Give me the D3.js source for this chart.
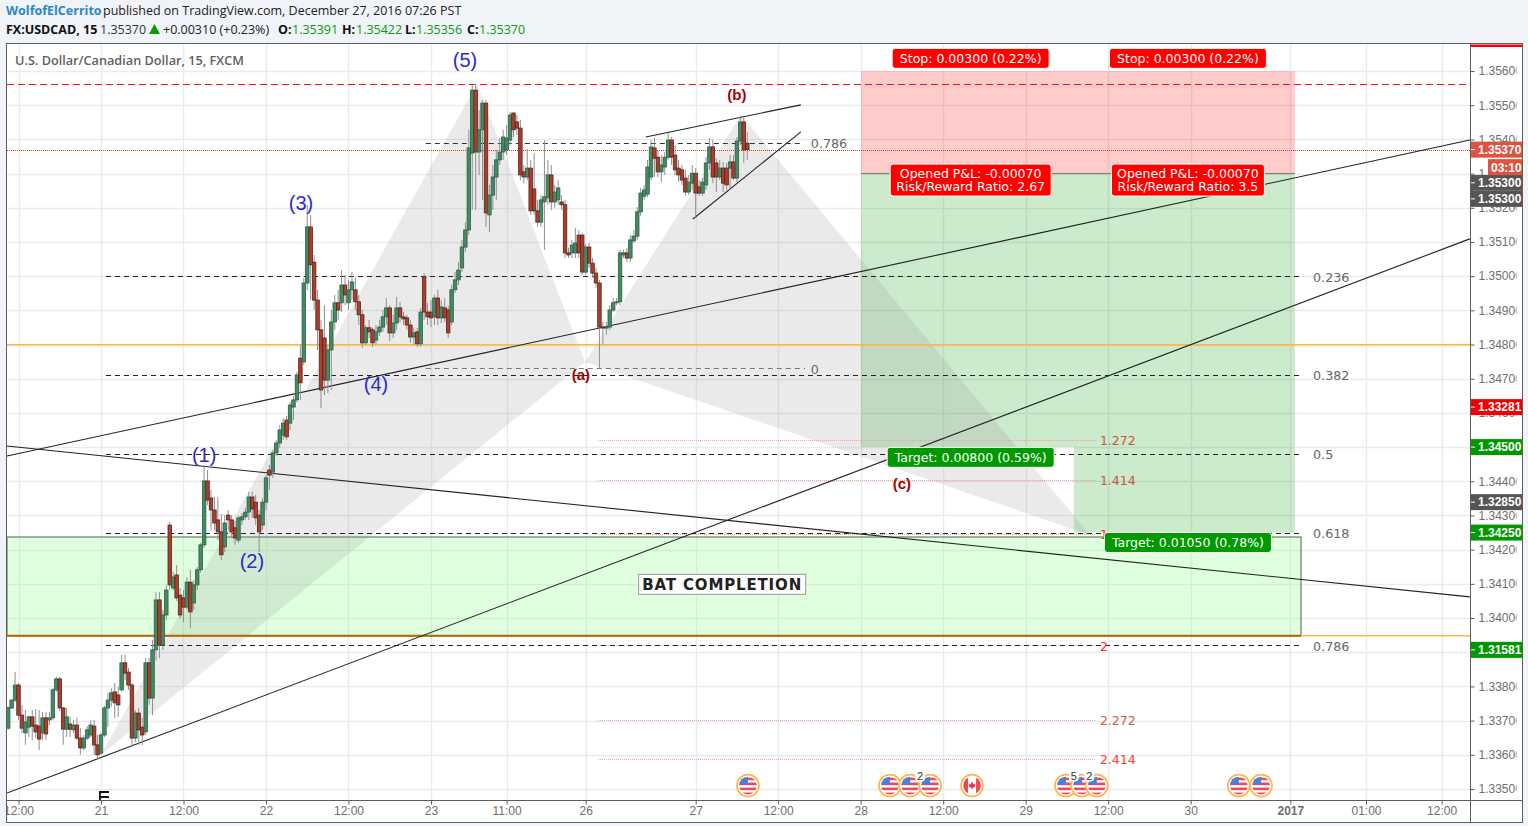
<!DOCTYPE html>
<html><head><meta charset="utf-8">
<script src="https://cdnjs.cloudflare.com/ajax/libs/d3/7.8.5/d3.min.js"></script>
<style>
html,body{margin:0;padding:0;background:#f0f3f8;overflow:hidden}
svg{display:block}
</style></head><body><svg id="c" width="1528" height="826"></svg>
<script>
// ---------- data: candles, one per 30-min slot of the picture, first bar index -3 ----------
const firstBar = -3;
const opens = [1.33678,1.33737,1.33760,1.33804,1.33716,1.33664,1.33681,1.33711,1.33687,1.33684,
1.33664,1.33708,1.33702,1.33708,1.33790,1.33822,1.33737,1.33675,1.33690,1.33673,
1.33687,1.33649,1.33620,1.33649,1.33658,1.33684,1.33629,1.33605,1.33658,1.33737,
1.33760,1.33784,1.33775,1.33790,1.33869,1.33842,1.33804,1.33649,1.33722,1.33681,
1.33667,1.33869,1.33766,1.33907,1.34053,1.33921,1.34009,1.34272,1.34088,1.34126,
1.34067,1.34059,1.34032,1.34105,1.34044,1.34097,1.34141,1.34214,1.34401,1.34351,
1.34316,1.34287,1.34252,1.34208,1.34301,1.34287,1.34264,1.34228,1.34287,1.34296,
1.34310,1.34354,1.34339,1.34301,1.34272,1.34339,1.34433,1.34427,1.34483,1.34512,
1.34535,1.34579,1.34570,1.34617,1.34638,1.34760,1.34749,1.34980,1.35144,1.35041,
1.34930,1.34843,1.34819,1.34696,1.34784,1.34866,1.34922,1.34922,1.34974,1.34922,
1.34960,1.34960,1.34925,1.34887,1.34805,1.34849,1.34843,1.34813,1.34837,1.34851,
1.34881,1.34907,1.34834,1.34863,1.34907,1.34881,1.34878,1.34857,1.34822,1.34837,
1.34802,1.34998,1.34895,1.34895,1.34881,1.34936,1.34878,1.34907,1.34901,1.34866,
1.34960,1.34989,1.35024,1.35085,1.35135,1.35360,1.35544,1.35363,1.35428,1.35506,
1.35179,1.35237,1.35290,1.35340,1.35363,1.35369,1.35398,1.35477,1.35451,1.35433,
1.35305,1.35290,1.35316,1.35255,1.35191,1.35158,1.35217,1.35229,1.35296,1.35217,
1.35223,1.35217,1.35209,1.35068,1.35068,1.35068,1.35120,1.35120,1.35012,1.35085,
1.35038,1.35009,1.34980,1.34851,1.34849,1.34851,1.34901,1.34922,1.34925,1.35062,
1.35068,1.35053,1.35103,1.35117,1.35188,1.35234,1.35240,1.35290,1.35375,1.35348,
1.35305,1.35319,1.35348,1.35398,1.35354,1.35316,1.35311,1.35287,1.35246,1.35272,
1.35301,1.35261,1.35243,1.35267,1.35331,1.35378,1.35331,1.35290,1.35316,1.35316,
1.35316,1.35334,1.35287,1.35395,1.35451,1.35389];
const closes = [1.33738,1.33760,1.33804,1.33716,1.33678,1.33696,1.33711,1.33684,1.33667,1.33646,
1.33708,1.33661,1.33708,1.33790,1.33822,1.33737,1.33675,1.33711,1.33675,1.33687,
1.33649,1.33620,1.33649,1.33673,1.33687,1.33629,1.33600,1.33658,1.33737,1.33760,
1.33781,1.33752,1.33746,1.33869,1.33839,1.33804,1.33649,1.33722,1.33673,1.33658,
1.33869,1.33766,1.33907,1.34053,1.33921,1.34009,1.34082,1.34097,1.34120,1.34059,
1.34009,1.34032,1.34105,1.34018,1.34097,1.34141,1.34214,1.34401,1.34345,1.34316,
1.34278,1.34252,1.34185,1.34278,1.34287,1.34252,1.34234,1.34293,1.34296,1.34310,
1.34354,1.34319,1.34293,1.34252,1.34339,1.34410,1.34418,1.34483,1.34512,1.34550,
1.34570,1.34530,1.34623,1.34638,1.34711,1.34688,1.34980,1.35144,1.35033,1.34930,
1.34843,1.34667,1.34696,1.34784,1.34866,1.34922,1.34901,1.34974,1.34945,1.34960,
1.34983,1.34925,1.34887,1.34805,1.34849,1.34837,1.34805,1.34837,1.34851,1.34881,
1.34907,1.34834,1.34863,1.34907,1.34881,1.34875,1.34857,1.34822,1.34834,1.34802,
1.34895,1.34895,1.34881,1.34878,1.34936,1.34878,1.34910,1.34878,1.34834,1.34960,
1.34989,1.35018,1.35085,1.35135,1.35375,1.35544,1.35363,1.35428,1.35506,1.35185,
1.35237,1.35290,1.35340,1.35363,1.35407,1.35404,1.35471,1.35428,1.35433,1.35296,
1.35290,1.35316,1.35191,1.35191,1.35158,1.35223,1.35232,1.35296,1.35217,1.35246,
1.35258,1.35209,1.35068,1.35062,1.35091,1.35097,1.35068,1.35012,1.35085,1.35038,
1.35009,1.34980,1.34851,1.34849,1.34851,1.34901,1.34922,1.34925,1.35068,1.35068,
1.35053,1.35106,1.35117,1.35188,1.35243,1.35252,1.35319,1.35378,1.35345,1.35305,
1.35325,1.35348,1.35398,1.35348,1.35311,1.35296,1.35281,1.35246,1.35275,1.35301,
1.35243,1.35243,1.35275,1.35331,1.35378,1.35290,1.35290,1.35316,1.35272,1.35267,
1.35334,1.35287,1.35395,1.35451,1.35369,1.35370];
const highs = [1.33741,1.33763,1.33842,1.33810,1.33746,1.33731,1.33714,1.33731,1.33734,1.33731,
1.33725,1.33725,1.33725,1.33795,1.33828,1.33828,1.33740,1.33737,1.33711,1.33702,
1.33708,1.33678,1.33658,1.33684,1.33702,1.33702,1.33658,1.33664,1.33743,1.33781,
1.33795,1.33810,1.33798,1.33892,1.33892,1.33854,1.33810,1.33731,1.33737,1.33708,
1.33883,1.33883,1.33936,1.34076,1.34076,1.34024,1.34096,1.34281,1.34135,1.34155,
1.34088,1.34082,1.34120,1.34141,1.34111,1.34149,1.34220,1.34447,1.34433,1.34375,
1.34354,1.34354,1.34304,1.34301,1.34316,1.34301,1.34284,1.34298,1.34307,1.34322,
1.34369,1.34369,1.34360,1.34316,1.34351,1.34419,1.34448,1.34492,1.34521,1.34565,
1.34585,1.34591,1.34632,1.34650,1.34720,1.34798,1.34995,1.35208,1.35179,1.35062,
1.34960,1.34872,1.34915,1.34798,1.34901,1.34945,1.34960,1.35018,1.35003,1.34989,
1.35012,1.34995,1.34945,1.34901,1.34857,1.34872,1.34849,1.34857,1.34872,1.34901,
1.34936,1.34915,1.34887,1.34939,1.34924,1.34895,1.34887,1.34872,1.34849,1.34849,
1.34907,1.35009,1.34922,1.34930,1.34945,1.34960,1.34930,1.34936,1.34913,1.34974,
1.35012,1.35041,1.35106,1.35158,1.35428,1.35559,1.35562,1.35486,1.35515,1.35515,
1.35267,1.35325,1.35369,1.35404,1.35428,1.35442,1.35480,1.35480,1.35471,1.35457,
1.35325,1.35372,1.35340,1.35360,1.35223,1.35237,1.35398,1.35340,1.35325,1.35267,
1.35281,1.35237,1.35223,1.35083,1.35106,1.35141,1.35135,1.35126,1.35094,1.35097,
1.35053,1.35024,1.34989,1.34866,1.34866,1.34915,1.34936,1.34936,1.35077,1.35077,
1.35083,1.35120,1.35135,1.35202,1.35258,1.35267,1.35340,1.35398,1.35404,1.35369,
1.35354,1.35363,1.35419,1.35407,1.35383,1.35340,1.35325,1.35311,1.35296,1.35325,
1.35316,1.35281,1.35287,1.35348,1.35404,1.35398,1.35345,1.35340,1.35334,1.35331,
1.35354,1.35354,1.35407,1.35469,1.35463,1.35421];
const lows = [1.33673,1.33734,1.33754,1.33702,1.33664,1.33629,1.33652,1.33643,1.33649,1.33614,
1.33643,1.33643,1.33687,1.33702,1.33784,1.33728,1.33629,1.33652,1.33652,1.33664,
1.33643,1.33600,1.33614,1.33643,1.33652,1.33600,1.33585,1.33600,1.33652,1.33681,
1.33740,1.33708,1.33711,1.33784,1.33819,1.33790,1.33623,1.33637,1.33629,1.33629,
1.33658,1.33746,1.33716,1.33877,1.33883,1.33907,1.33994,1.34082,1.34082,1.34050,
1.34000,1.33988,1.34024,1.33970,1.34024,1.34082,1.34132,1.34205,1.34331,1.34258,
1.34258,1.34228,1.34170,1.34193,1.34258,1.34237,1.34214,1.34220,1.34272,1.34287,
1.34287,1.34293,1.34272,1.34193,1.34258,1.34316,1.34375,1.34410,1.34474,1.34497,
1.34521,1.34521,1.34550,1.34579,1.34629,1.34638,1.34740,1.34960,1.34930,1.34901,
1.34784,1.34614,1.34652,1.34658,1.34667,1.34843,1.34872,1.34895,1.34915,1.34901,
1.34930,1.34901,1.34857,1.34790,1.34799,1.34819,1.34793,1.34799,1.34825,1.34837,
1.34857,1.34810,1.34819,1.34843,1.34866,1.34857,1.34843,1.34805,1.34799,1.34793,
1.34793,1.34872,1.34857,1.34851,1.34857,1.34857,1.34863,1.34866,1.34819,1.34857,
1.34951,1.34974,1.35012,1.35071,1.35120,1.35194,1.35194,1.35296,1.35223,1.35144,
1.35129,1.35194,1.35223,1.35325,1.35340,1.35354,1.35383,1.35407,1.35413,1.35281,
1.35272,1.35281,1.35179,1.35179,1.35144,1.35144,1.35077,1.35209,1.35194,1.35200,
1.35209,1.35194,1.35053,1.35053,1.35053,1.35053,1.35053,1.35003,1.35003,1.35024,
1.34995,1.34966,1.34731,1.34799,1.34828,1.34843,1.34895,1.34915,1.34915,1.35053,
1.35041,1.35041,1.35097,1.35106,1.35176,1.35223,1.35232,1.35281,1.35290,1.35290,
1.35275,1.35296,1.35340,1.35325,1.35296,1.35275,1.35267,1.35235,1.35237,1.35252,
1.35170,1.35235,1.35235,1.35252,1.35311,1.35272,1.35246,1.35281,1.35246,1.35252,
1.35252,1.35281,1.35275,1.35383,1.35331,1.35340];

const priceTicks = [1.335,1.336,1.337,1.338,1.339,1.34,1.341,1.342,1.343,1.344,1.345,1.346,1.347,1.348,1.349,1.35,1.351,1.352,1.353,1.354,1.355,1.356];
const timeTicks = [0,24,48,72,96,120,142,165,197,221,245,269,293,317,341,370,392,414];
const timeLabels = ["12:00","21","12:00","22","12:00","23","11:00","26","27","12:00","28","12:00","29","12:00","30","2017","01:00","12:00"];

const trendLines = [[-3.35,1.34474,422.2,1.35398],[-3.35,1.33488,422.2,1.35109],[-3.35,1.34503,422.2,1.34062],[182.5,1.35407,227.6,1.35501],[196.2,1.35167,227.6,1.35422]];
const batA = [[24,1.33600],[133.4,1.35562],[164.8,1.34749]];
const batB = [[164.8,1.34749],[210.2,1.35471],[311.7,1.34243]];

const mainFibLevels = [1.35000,1.34711,1.34480,1.34249,1.33921];
const mainFibNames = ["0.236","0.382","0.5","0.618","0.786"];
const upperFibLevels = [1.35390,1.34731];
const upperFibNames = ["0.786","0"];
const extFibLevels = [1.34521,1.34404,1.34246,1.33921,1.33702,1.33588];
const extFibNames = ["1.272","1.414","1","2","2.272","2.414"];
const extFibColors = ["#c9573f","#c9573f","#ff2a2a","#ff2a2a","#d0603f","#ff3b2a"];

const horizOrange = [1.34799,1.33948];
const stopDashed = 1.35562, lastPrice = 1.35370;
const batBox = [-3.35,373.1,1.34237,1.33948];
const stop = 1.356, entry = 1.353, targets = [1.345,1.3425];
const posX = [245.1,307,371.3];

const waveLabels = [["(5)",129.9,1.35632],["(3)",82.2,1.35214],["(1)",54,1.34477],["(2)",67.9,1.34167],["(4)",104,1.34685]];
const abcLabels = [["(b)",209,1.35530],["(a)",163.6,1.34711],["(c)",257,1.34392]];
// badge text, price level of its centre on the stacked axis, colour
const axisBadges = [["1.35370",1.35370,"#df5240"],["1.35300",1.35273,"#555"],["1.35300",1.35226,"#555"],["1.33281",1.34617,"#f00000"],["1.34500",1.34500,"#009a00"],["1.32850",1.34339,"#555"],["1.34250",1.34250,"#009a00"],["1.31581",1.33907,"#009a00"]];
const usEvents = [212.2,253.5,259.4,265.2,304.7,309.4,313.7,355,361.5];
const caEvents = [277.4];
const eventCounts = [["2",262.3],["5",307],["2",311.5]];

// ---------- scales ----------
const x = d3.scaleLinear().domain([0,414]).range([18.5,1441.6]);
const y = d3.scaleLinear().domain([1.335,1.356]).range([789,71]);
const L=7,R=1470,T=44,B=800,RR=1522,BB=822;
const svg = d3.select("#c");
const defs = svg.append("defs");
defs.append("clipPath").attr("id","plot").append("rect").attr("x",L).attr("y",T).attr("width",R-L).attr("height",B-T);
defs.append("clipPath").attr("id","ax").append("rect").attr("x",0).attr("y",T).attr("width",46).attr("height",B-T);
defs.append("clipPath").attr("id","bot").append("rect").attr("x",L).attr("y",0).attr("width",RR-L).attr("height",21);
defs.append("clipPath").attr("id","ev").append("circle").attr("r",8.8);

const SANS="'Open Sans',sans-serif", DJ="'DejaVu Sans',sans-serif", AR="'Liberation Sans',Arial,sans-serif";
const rnd=v=>Math.round(v)+.5;

// header
const h1=svg.append("g").attr("font-family",SANS).attr("font-size",12.5);
h1.append("text").attr("x",6).attr("y",15).attr("font-weight",700).attr("fill","#2b86c5").text("WolfofElCerrito");
h1.append("text").attr("x",103).attr("y",15).attr("fill","#222").text("published on TradingView.com, December 27, 2016 07:26 PST");
const seg=[[6,"FX:USDCAD, 15",700,"#111"],[100,"1.35370",400,"#333"],[163,"+0.00310 (+0.23%)",400,"#222"],[278,"O:",700,"#111"],[292,"1.35391",400,"#0b9a0b"],[342,"H:",700,"#111"],[356,"1.35422",400,"#0b9a0b"],[405,"L:",700,"#111"],[416,"1.35356",400,"#0b9a0b"],[467,"C:",700,"#111"],[479,"1.35370",400,"#0b9a0b"]];
h1.selectAll("text.s").data(seg).join("text").attr("class","s").attr("x",d=>d[0]).attr("y",34).attr("font-weight",d=>d[2]).attr("fill",d=>d[3]).text(d=>d[1]);
h1.append("path").attr("d","M149,34L160,34L154.5,24Z").attr("fill","#0a9a0a");

// frame
svg.append("rect").attr("x",6.5).attr("y",43.5).attr("width",RR-6).attr("height",BB-43).attr("fill","#fff").attr("stroke","#5d5d5d");

// grid
const plot=svg.append("g").attr("clip-path","url(#plot)");
plot.append("g").selectAll("line").data(priceTicks).join("line").attr("x1",L).attr("x2",R).attr("y1",d=>rnd(y(d))).attr("y2",d=>rnd(y(d))).attr("stroke","#e9ecee").attr("stroke-width",1.4);
plot.append("g").selectAll("line").data(timeTicks).join("line").attr("y1",T).attr("y2",B).attr("x1",d=>rnd(x(d))).attr("x2",d=>rnd(x(d))).attr("stroke","#e9ecee").attr("stroke-width",1.4);

// BAT completion box
plot.append("rect").attr("x",x(batBox[0])).attr("width",x(batBox[1])-x(batBox[0])).attr("y",y(batBox[2])).attr("height",y(batBox[3])-y(batBox[2])).attr("fill","rgba(128,255,128,.25)").attr("stroke","#5f7f5f").attr("stroke-width",1.2);

// position tools
plot.append("rect").attr("x",x(posX[0])).attr("width",x(posX[2])-x(posX[0])).attr("y",y(stop)).attr("height",y(entry)-y(stop)).attr("fill","rgba(255,0,0,.2)");
plot.append("rect").attr("x",x(posX[0])).attr("width",x(posX[1])-x(posX[0])).attr("y",y(entry)).attr("height",y(targets[0])-y(entry)).attr("fill","rgba(0,150,0,.2)");
plot.append("rect").attr("x",x(posX[1])).attr("width",x(posX[2])-x(posX[1])).attr("y",y(entry)).attr("height",y(targets[1])-y(entry)).attr("fill","rgba(0,150,0,.2)");
plot.append("line").attr("x1",x(posX[0])).attr("x2",x(posX[2])).attr("y1",y(entry)).attr("y2",y(entry)).attr("stroke","#777");

// harmonic pattern
[batA,batB].forEach(p=>plot.append("path").attr("d",d3.line().x(d=>x(d[0])).y(d=>y(d[1]))(p)+"Z").attr("fill","rgba(150,150,150,.2)"));

// horizontals
plot.selectAll("line.o").data(horizOrange).join("line").attr("class","o").attr("x1",L).attr("x2",R).attr("y1",d=>y(d)).attr("y2",d=>y(d)).attr("stroke","#ffb74d").attr("stroke-width",1.5);
plot.append("line").attr("x1",x(batBox[0])).attr("x2",x(batBox[1])).attr("y1",y(batBox[3])).attr("y2",y(batBox[3])).attr("stroke","#b06a00").attr("stroke-width",2);
plot.append("line").attr("x1",L).attr("x2",R).attr("y1",rnd(y(stopDashed))).attr("y2",rnd(y(stopDashed))).attr("stroke","#ff1010").attr("stroke-dasharray","7 4");
plot.append("line").attr("x1",L).attr("x2",R).attr("y1",rnd(y(lastPrice))).attr("y2",rnd(y(lastPrice))).attr("stroke","#f03020").attr("stroke-dasharray","1 1");

// fibs
const fib=(levels,x1,x2,color,dash)=>plot.append("g").selectAll("line").data(levels).join("line").attr("x1",x(x1)).attr("x2",x(x2)).attr("y1",d=>rnd(y(d))).attr("y2",d=>rnd(y(d))).attr("stroke",color).attr("stroke-dasharray",dash);
fib(extFibLevels,168.6,313.2,"#f0a0a0","1 1");
fib(mainFibLevels,25.45,373.7,"#222","5 4");
fib([upperFibLevels[0]],118.5,227.3,"#333","5 4");
fib([upperFibLevels[1]],118.5,228.8,"#777","5 4");
const lab=(d,xi,fs,col)=>plot.append("g").selectAll("text").data(d).join("text").attr("x",x(xi)).attr("y",e=>y(e[1])+5.5).attr("font-family",DJ).attr("font-size",fs).attr("fill",(e,i)=>col[i%col.length]).text(e=>e[0]);
lab(mainFibNames.map((n,i)=>[n,mainFibLevels[i]]),376.6,12.7,["#666"]);
lab(upperFibNames.map((n,i)=>[n,upperFibLevels[i]]),230.5,12.7,["#666"]);
lab(extFibNames.map((n,i)=>[n,extFibLevels[i]]),314.6,12.5,extFibColors);

// trend lines
plot.selectAll("line.t").data(trendLines).join("line").attr("class","t").attr("x1",d=>x(d[0])).attr("y1",d=>y(d[1])).attr("x2",d=>x(d[2])).attr("y2",d=>y(d[3])).attr("stroke","#222").attr("stroke-width",1.1);

// candles
const idx=d3.range(opens.length);
const cg=plot.append("g");
cg.selectAll("line").data(idx).join("line").attr("x1",i=>x(i+firstBar)).attr("x2",i=>x(i+firstBar)).attr("y1",i=>y(highs[i])).attr("y2",i=>y(lows[i])).attr("stroke","#8f8f8f").attr("stroke-width",1);
cg.selectAll("rect").data(idx).join("rect").attr("x",i=>x(i+firstBar)-1.75).attr("width",3.5).attr("y",i=>y(Math.max(opens[i],closes[i]))).attr("height",i=>Math.max(1,Math.abs(y(opens[i])-y(closes[i])))).attr("fill",i=>closes[i]>=opens[i]?"#438a62":"#b23b2b").attr("stroke",i=>closes[i]>=opens[i]?"#2f5f48":"#4a2a20").attr("stroke-width",.8);

// wave labels
plot.append("g").selectAll("text").data(waveLabels).join("text").attr("x",d=>x(d[1])).attr("y",d=>y(d[2])+7).attr("text-anchor","middle").attr("font-family",AR).attr("font-size",20).attr("fill","#2b2bc8").text(d=>d[0]);
plot.append("g").selectAll("text").data(abcLabels).join("text").attr("x",d=>x(d[1])).attr("y",d=>y(d[2])+5).attr("text-anchor","middle").attr("font-family",AR).attr("font-weight",700).attr("font-size",15).attr("fill","#a80000").text(d=>d[0]);

// BAT text
const bx=x(204.7), by=y(1.341);
plot.append("rect").attr("x",bx-83.5).attr("y",by-9.5).attr("width",167).attr("height",20).attr("fill","#fff").attr("stroke","#999");
plot.append("text").attr("x",bx).attr("y",by+6).attr("text-anchor","middle").attr("font-family",DJ).attr("font-weight",700).attr("font-size",15).attr("letter-spacing",.85).attr("fill","#222").text("BAT COMPLETION");

// pills
function pill(cx,cy,w,h,col,lines){
  plot.append("rect").attr("x",x(cx)-w/2).attr("y",y(cy)-h/2).attr("width",w).attr("height",h).attr("rx",3).attr("fill",col).attr("stroke","#fff");
  lines.forEach((t,i)=>plot.append("text").attr("x",x(cx)).attr("y",y(cy)+(i-(lines.length-1)/2)*13+4.5).attr("text-anchor","middle").attr("font-family",DJ).attr("font-size",12.5).attr("fill","#fff").text(t));
}
pill(277,1.35637,157,20,"#ff0000",["Stop: 0.00300 (0.22%)"]);
pill(340.2,1.35637,157,20,"#ff0000",["Stop: 0.00300 (0.22%)"]);
pill(277,1.35281,161,32,"#ff0000",["Opened P&L: -0.00070","Risk/Reward Ratio: 2.67"]);
pill(340.2,1.35281,153,32,"#ff0000",["Opened P&L: -0.00070","Risk/Reward Ratio: 3.5"]);
pill(277,1.34470,167,20,"#009a00",["Target: 0.00800 (0.59%)"]);
pill(340.2,1.34221,167,20,"#009a00",["Target: 0.01050 (0.78%)"]);

// tool mark near the axis
plot.append("path").attr("d",`M${x(25)+4.5},${B-8}H${x(25)-4.5}V${B-3}H${x(25)+4.5}M${x(25)-4.5},${B-3}V${B}`).attr("fill","none").attr("stroke","#111").attr("stroke-width",1.8);

// events
function flag(g,ca){
  g.append("circle").attr("r",11).attr("fill","#fff").attr("stroke","#ffb74d").attr("stroke-width",1.7);
  const c=g.append("g").attr("clip-path","url(#ev)");
  if(ca){
    c.append("rect").attr("x",-10).attr("y",-10).attr("width",6).attr("height",20).attr("fill","#f0485a");
    c.append("rect").attr("x",4).attr("y",-10).attr("width",6).attr("height",20).attr("fill","#f0485a");
    c.append("path").attr("d","M0,-4L1.5,-1L3,-2L2.5,2L0.5,2L0.5,4L-0.5,4L-0.5,2L-2.5,2L-3,-2L-1.5,-1Z").attr("fill","#e8324a");
  } else {
    [-7,-2,3,8].forEach(v=>c.append("rect").attr("x",-10).attr("y",v-1).attr("width",20).attr("height",2.6).attr("fill","#f0485a"));
    c.append("rect").attr("x",-10).attr("y",-10).attr("width",10).attr("height",9).attr("fill","#4a7fdc");
  }
}
const eg=plot.append("g");
usEvents.forEach(v=>flag(eg.append("g").attr("transform",`translate(${x(v)},${y(1.3351)})`),false));
caEvents.forEach(v=>flag(eg.append("g").attr("transform",`translate(${x(v)},${y(1.3351)})`),true));
eventCounts.forEach(d=>{
  eg.append("rect").attr("x",x(d[1])-5).attr("y",y(1.3351)-16).attr("width",10).attr("height",12).attr("rx",4).attr("fill","#fff");
  eg.append("text").attr("x",x(d[1])).attr("y",y(1.3351)-6).attr("text-anchor","middle").attr("font-family",AR).attr("font-size",11).attr("fill","#333").text(d[0]);
});

// axes
svg.append("line").attr("x1",R+.5).attr("x2",R+.5).attr("y1",T).attr("y2",BB).attr("stroke","#5d5d5d");
svg.append("line").attr("x1",L).attr("x2",RR).attr("y1",B+.5).attr("y2",B+.5).attr("stroke","#5d5d5d");
svg.append("rect").attr("x",R+1).attr("y",T+.5).attr("width",RR-R-1).attr("height",2.5).attr("fill","#ff0000");
const ya=svg.append("g").attr("clip-path","url(#ax)").attr("transform",`translate(${R+.5},0)`).call(d3.axisRight(y).tickValues(priceTicks).tickSize(4).tickPadding(4).tickFormat(d3.format(".5f")));
ya.select(".domain").remove();
ya.selectAll("line").attr("stroke","#5d5d5d");
ya.selectAll("text").attr("font-family",AR).attr("font-size",12).attr("fill","#6e6e6e");
const xa=svg.append("g").attr("clip-path","url(#bot)").attr("transform",`translate(0,${B+.5})`).call(d3.axisBottom(x).tickValues(timeTicks).tickSize(4).tickPadding(2).tickFormat((d,i)=>timeLabels[i]));
xa.select(".domain").remove();
xa.selectAll("line").attr("stroke","#5d5d5d");
xa.selectAll("text").attr("font-family",AR).attr("font-size",12).attr("fill","#6e6e6e").attr("font-weight",(d,i)=>timeLabels[i]==="2017"?700:400);

// axis badges
const bd=svg.append("g");
axisBadges.forEach(b=>{
  const cy=y(b[1]);
  bd.append("rect").attr("x",R+1).attr("y",cy-8).attr("width",RR-R-1).attr("height",16).attr("fill",b[2]);
  bd.append("line").attr("x1",R+1).attr("x2",R+5).attr("y1",cy).attr("y2",cy).attr("stroke","#fff");
  bd.append("text").attr("x",R+8).attr("y",cy+4.3).attr("font-family",AR).attr("font-size",12).attr("font-weight",700).attr("fill","#fff").text(b[0]);
});
bd.append("rect").attr("x",1488).attr("y",y(lastPrice)+9.5).attr("width",RR-1488).attr("height",16).attr("fill","#df5240");
bd.append("text").attr("x",1491).attr("y",y(lastPrice)+22).attr("font-family",AR).attr("font-size",12).attr("font-weight",700).attr("fill","#fff").text("03:10");

// title
svg.append("text").attr("x",15).attr("y",65).attr("font-family",SANS).attr("font-weight",600).attr("font-size",12.7).attr("fill","#5f5f5f").text("U.S. Dollar/Canadian Dollar, 15, FXCM");
</script></body></html>
